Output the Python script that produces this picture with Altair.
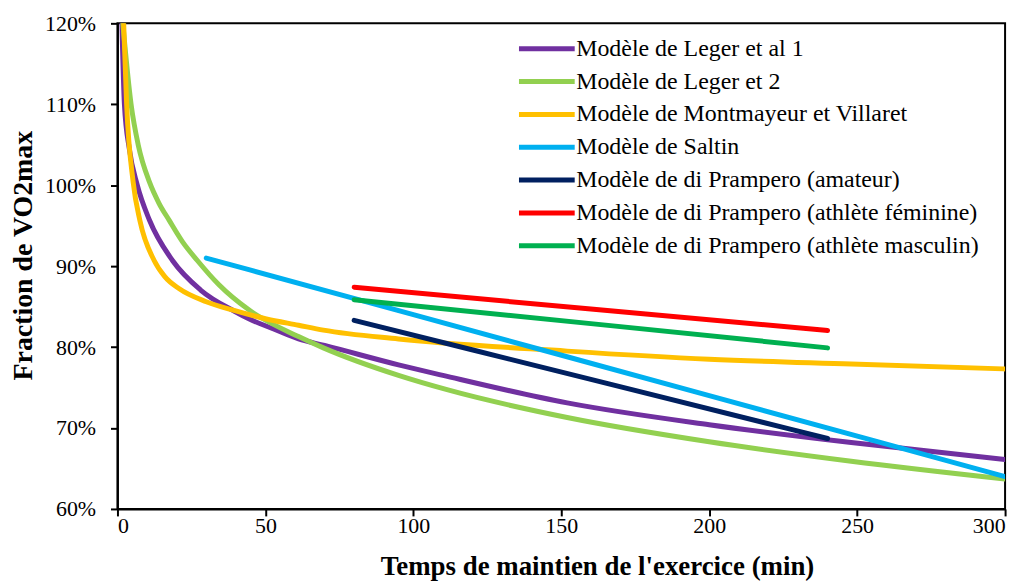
import altair as alt
import pandas as pd

names = [
    "Modèle de Leger et al 1",
    "Modèle de Leger et 2",
    "Modèle de Montmayeur et Villaret",
    "Modèle de Saltin",
    "Modèle de di Prampero (amateur)",
    "Modèle de di Prampero (athlète féminine)",
    "Modèle de di Prampero (athlète masculin)",
]
colors = ["#7030A0", "#92D050", "#FFC000", "#00B0F0", "#002060", "#FF0000", "#00B050"]

leger1_t = [1.5, 2.35, 4.0, 6.7, 10.8, 18.6, 28.1, 39.7, 44.4, 53.0, 61.2, 70.0, 95.0, 110.0, 152.0, 200.0, 248.0, 300.0]
leger1_v = [120.0, 110.0, 104.5, 100.0, 95.7, 90.7, 87.05, 84.4, 83.5, 82.2, 81.0, 80.2, 77.8, 76.5, 73.1, 70.4, 68.2, 66.1]

leger2_t = [1.8, 4.6, 7.0, 10.8, 14.0, 17.5, 22.0, 27.0, 34.3, 44.4, 61.2, 69.6, 95.0, 111.7, 152.0, 200.0, 248.0, 300.0]
leger2_v = [120.0, 110.0, 105.0, 100.4, 97.8, 95.65, 93.0, 90.7, 87.7, 84.6, 81.3, 79.9, 76.5, 74.7, 71.3, 68.3, 65.9, 63.7]

montm_t = [2.1, 3.1, 5.3, 7.6, 12.4, 16.0, 20.9, 30.0, 39.7, 50.0, 61.2, 69.6, 95.0, 152.0, 200.0, 248.0, 300.0]
montm_v = [120.0, 110.0, 100.4, 95.6, 90.7, 88.7, 87.2, 85.6, 84.5, 83.5, 82.7, 82.1, 81.0, 79.5, 78.5, 77.9, 77.3]

saltin_t = [30.0, 100.0, 200.0, 300.0]
saltin_v = [91.0, 84.0, 74.0, 64.0]

prampero_t = [80.0, 160.0, 240.0]
amateur_v = [83.3, 76.0, 68.7]
feminine_v = [87.4, 84.7, 82.05]
masculin_v = [85.85, 82.9, 79.9]

series = [
    (leger1_t, leger1_v),
    (leger2_t, leger2_v),
    (montm_t, montm_v),
    (saltin_t, saltin_v),
    (prampero_t, amateur_v),
    (prampero_t, feminine_v),
    (prampero_t, masculin_v),
]

rows = []
for name, (ts, vs) in zip(names, series):
    for t, v in zip(ts, vs):
        rows.append({"model": name, "t": t, "v": v})
df = pd.DataFrame(rows)

FONT = "Liberation Serif"

color = alt.Color(
    "model:N",
    scale=alt.Scale(domain=names, range=colors),
    legend=alt.Legend(
        title=None,
        orient="none",
        legendX=401,
        legendY=9,
        symbolType="M-1,0L3,0",
        symbolSize=784,
        symbolStrokeWidth=5,
        labelFont=FONT,
        labelFontSize=24,
        labelColor="black",
        rowPadding=4,
        labelOffset=27,
        labelLimit=0,
        padding=0,
    ),
)

x = alt.X(
    "t:Q",
    scale=alt.Scale(domain=[0, 300], nice=False),
    axis=alt.Axis(
        values=[0, 50, 100, 150, 200, 250, 300],
        title="Temps de maintien de l'exercice (min)",
        titleX=482,
        titleY=66,
        titleBaseline="alphabetic",
        titleFontSize=27,
        labelPadding=0,
    ),
)
y = alt.Y(
    "v:Q",
    scale=alt.Scale(domain=[60, 120], nice=False, zero=False),
    axis=alt.Axis(
        values=[60, 70, 80, 90, 100, 110, 120],
        labelExpr="datum.value + '%'",
        title="Fraction de VO2max",
        titleX=-94,
        titleY=233,
        titleAngle=270,
        titleBaseline="middle",
        titleAlign="center",
        titleFontSize=28,
        labelPadding=15,
    ),
)

layers = []
for name in names:
    layers.append(
        alt.Chart(df)
        .transform_filter(alt.datum.model == name)
        .mark_line(strokeWidth=5, strokeCap="round", strokeJoin="round", interpolate="monotone", clip=True)
        .encode(x=x, y=y, color=color)
    )

chart = (
    alt.layer(*layers)
    .properties(
        width=892,
        height=488,
        autosize=alt.AutoSizeParams(type="none"),
        padding={"left": 110, "top": 14, "right": 16, "bottom": 71},
    )
    .configure_view(stroke="black", strokeWidth=2)
    .configure_axis(
        grid=False,
        domainColor="black",
        domainWidth=2,
        tickColor="black",
        tickWidth=2,
        tickSize=7,
        labelFont=FONT,
        labelFontSize=22,
        labelColor="black",
        titleFont=FONT,
        titleFontWeight="bold",
        titleColor="black",
    )
)

chart.save("out.html", embed_options={"renderer": "svg", "actions": False})
